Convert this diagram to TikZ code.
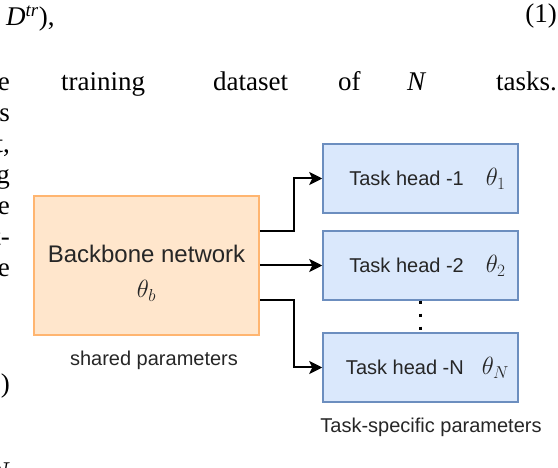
\documentclass[tikz,border=0pt]{standalone}
\usepackage{fontspec}
\setmainfont{Liberation Serif}
\newfontfamily\diafont{Liberation Sans}
\usetikzlibrary{arrows.meta,positioning}
\definecolor{bbfill}{HTML}{FFE6CC}
\definecolor{bbline}{HTML}{FFB570}
\definecolor{headfill}{HTML}{DAE8FC}
\definecolor{headline}{HTML}{6C8EBF}
\definecolor{diatext}{HTML}{262626}
\newcommand{\bigmath}[2]{{\fontsize{#1}{#1}\selectfont$#2$}}

\begin{document}
\begin{tikzpicture}[x=1pt, y=1pt,
    paper/.style={font=\fontsize{27}{31}\selectfont, inner sep=0pt},
    backbone/.style={draw=bbline, fill=bbfill, line width=1.5pt, minimum width=225pt, minimum height=139pt, inner sep=0pt},
    bbtext/.style={font=\diafont\fontsize{24}{35}\selectfont, text=diatext, align=center, inner sep=0pt},
    head/.style={draw=headline, fill=headfill, line width=1.5pt, minimum width=195pt, minimum height=69pt, inner sep=0pt, font=\diafont\fontsize{20}{24}\selectfont, text=diatext},
    caption/.style={font=\diafont\fontsize{20}{24}\selectfont, text=diatext},
    link/.style={line width=2pt, -{Stealth[length=13pt, width=13pt, inset=3pt]}},
    dotline/.style={line width=3pt, dash pattern=on 3pt off 10pt}]
    \useasboundingbox (0,0) rectangle (558,-468);
    \clip (0,0) rectangle (558,-468);
    % text of the page around the figure
    \node[paper, anchor=base west] (eq) at (6,-26) {\textit{D}\textsuperscript{\textit{tr}}),};
    \node[paper, anchor=base east] (eqno) at (557,-23) {(1)};
    \node[paper, anchor=base west] (w1) at (61,-91) {training};
    \node[paper, anchor=base west] (w2) at (213,-91) {dataset};
    \node[paper, anchor=base west] (w3) at (338,-91) {of};
    \node[paper, anchor=base west] (w4) at (407,-91) {\textit{N}};
    \node[paper, anchor=base west] (w5) at (496,-91) {tasks.};
    \foreach \t/\y [count=\k] in {e/91, s/122, {t,}/153, g/184, e/215, {t-}/246, e/277, )/393, \textit{N}/480}
        \node[paper, anchor=base east] (edge\k) at (10,-\y) {\t};
    % figure
    \node[backbone] (bb) at (146.5,-265.5) {};
    \node[bbtext] (bbt) at ([yshift=-8]bb.center) {Backbone network\\\bigmath{26}{\theta_b}};
    \node[caption] (shared) at (154,-360) {shared parameters};
    \node[head] (h1) at (420.5,-178.5) {\hspace*{14pt}Task head -1\hspace{22pt}\bigmath{23}{\theta_1}};
    \node[head] (h2) at (420.5,-265.5) {\hspace*{14pt}Task head -2\hspace{22pt}\bigmath{23}{\theta_2}};
    \node[head] (hN) at (420.5,-367.5) {\hspace*{14pt}Task head -N\hspace{18pt}\bigmath{23}{\theta_N}};
    \node[caption] (specific) at (431,-427) {Task-specific parameters};
    \draw[link] ([yshift=34.5]bb.east) -- ++(34,0) |- (h1.west);
    \draw[link] (bb.east) -- (h2.west);
    \draw[link] ([yshift=-34.5]bb.east) -- ++(34,0) |- (hN.west);
    \draw[dotline] (h2.south) -- (hN.north);
\end{tikzpicture}
\end{document}
